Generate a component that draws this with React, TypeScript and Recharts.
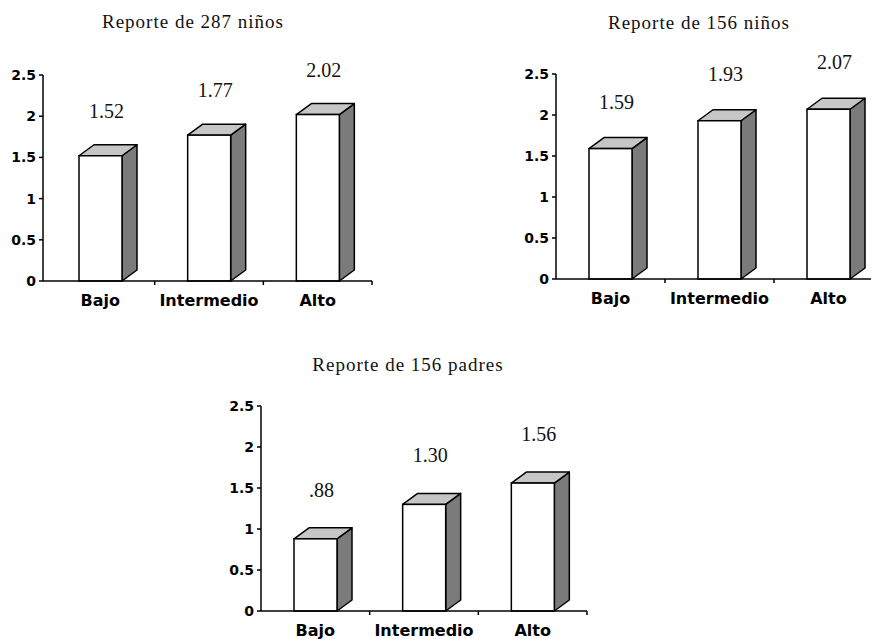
import React from 'react';
import { BarChart, Bar, XAxis, YAxis, LabelList } from 'recharts';

const categories = ['Bajo', 'Intermedio', 'Alto'];
const ninos287 = [1.52, 1.77, 2.02];
const ninos156 = [1.59, 1.93, 2.07];
const padres156 = [0.88, 1.3, 1.56];
const labels287 = ['1.52', '1.77', '2.02'];
const labels156 = ['1.59', '1.93', '2.07'];
const labelsPadres = ['.88', '1.30', '1.56'];
const yTicks = [0, 0.5, 1, 1.5, 2, 2.5];

const DX = 15;
const DY = 11;

const Box3D = (props: any) => {
  const { x, y, width: w, height: h } = props;
  if (h == null || w == null) return null;
  const b = y + h;
  return (
    <g>
      <polygon
        points={`${x + w},${y} ${x + w + DX},${y - DY} ${x + w + DX},${b - DY} ${x + w},${b}`}
        fill="#7b7b7b"
        stroke="#000"
        strokeWidth={1.5}
        strokeLinejoin="round"
      />
      <polygon
        points={`${x},${y} ${x + DX},${y - DY} ${x + w + DX},${y - DY} ${x + w},${y}`}
        fill="#c6c6c6"
        stroke="#000"
        strokeWidth={1.5}
        strokeLinejoin="round"
      />
      <rect x={x} y={y} width={w} height={h} fill="#fff" stroke="#000" strokeWidth={1.5} />
    </g>
  );
};

const valueLabel = (gap: number) => (p: any) => (
  <text
    x={p.x + p.width / 2 + 6}
    y={p.y - gap}
    textAnchor="middle"
    dominantBaseline="central"
    fontFamily="Liberation Serif"
    fontSize={20}
    fill="#111"
  >
    {p.value}
  </text>
);

const valueTick = (p: any) => (
  <text
    x={p.x}
    y={p.y}
    textAnchor="end"
    dominantBaseline="central"
    fontFamily="DejaVu Sans"
    fontWeight="bold"
    fontSize={14}
    fill="#000"
  >
    {p.payload.value}
  </text>
);

const categoryTick = (band: number) => (p: any) => (
  <g>
    <line x1={p.x + band / 2} x2={p.x + band / 2} y1={p.y} y2={p.y + 4} stroke="#000" strokeWidth={1.5} />
    <text
      x={p.x}
      y={p.y + 19}
      textAnchor="middle"
      dominantBaseline="central"
      fontFamily="DejaVu Sans"
      fontWeight="bold"
      fontSize={16}
      fill="#000"
    >
      {p.payload.value}
    </text>
  </g>
);

interface PanelProps {
  title: string;
  values: number[];
  labels: string[];
  left: number;
  top: number;
  width: number;
  height: number;
  plotTop: number;
  plotWidth: number;
  xAxisHeight: number;
  padLeft: number;
  labelGap: number;
  titleX: number;
  titleY: number;
}

const Panel = (p: PanelProps) => {
  const data = categories.map((c, i) => ({ name: c, value: p.values[i], label: p.labels[i] }));
  const band = (p.plotWidth - p.padLeft) / categories.length;
  return (
    <>
      <div
        style={{
          position: 'absolute',
          left: p.titleX - 150,
          top: p.titleY - 12,
          width: 300,
          height: 24,
          lineHeight: '24px',
          textAlign: 'center',
          fontFamily: 'Liberation Serif',
          fontSize: 19,
          letterSpacing: 1,
          color: '#111',
        }}
      >
        {p.title}
      </div>
      <div style={{ position: 'absolute', left: p.left, top: p.top }}>
        <BarChart
          width={p.width}
          height={p.height}
          data={data}
          margin={{ top: p.plotTop, left: 0, bottom: 0, right: p.width - 43 - p.plotWidth }}
        >
          <YAxis
            width={43}
            domain={[0, 2.5]}
            ticks={yTicks}
            axisLine={{ stroke: '#000', strokeWidth: 1.5 }}
            tickLine={{ stroke: '#000', strokeWidth: 1.5 }}
            tickSize={4}
            tickMargin={3}
            tick={valueTick}
          />
          <XAxis
            dataKey="name"
            height={p.xAxisHeight}
            padding={{ left: p.padLeft, right: 0 }}
            axisLine={{ stroke: '#000', strokeWidth: 1.5 }}
            tickLine={false}
            tickSize={0}
            tickMargin={0}
            interval={0}
            tick={categoryTick(band)}
          />
          <Bar dataKey="value" barSize={43} shape={<Box3D />} isAnimationActive={false}>
            <LabelList dataKey="label" content={valueLabel(p.labelGap)} />
          </Bar>
        </BarChart>
      </div>
    </>
  );
};

export default function App() {
  return (
    <div
      style={{
        position: 'absolute',
        left: 0,
        top: 0,
        width: 871,
        height: 639,
        overflow: 'hidden',
        background: '#fff',
      }}
    >
      <Panel
        title="Reporte de 287 niños"
        values={ninos287}
        labels={labels287}
        left={0}
        top={40}
        width={380}
        height={290}
        plotTop={35}
        plotWidth={329}
        xAxisHeight={49}
        padLeft={3}
        labelGap={45}
        titleX={193}
        titleY={22}
      />
      <Panel
        title="Reporte de 156 niños"
        values={ninos156}
        labels={labels156}
        left={513}
        top={40}
        width={380}
        height={290}
        plotTop={34}
        plotWidth={327}
        xAxisHeight={51}
        padLeft={0}
        labelGap={47}
        titleX={699}
        titleY={23}
      />
      <Panel
        title="Reporte de 156 padres"
        values={padres156}
        labels={labelsPadres}
        left={218}
        top={380}
        width={380}
        height={259}
        plotTop={26}
        plotWidth={326}
        xAxisHeight={28}
        padLeft={0}
        labelGap={49}
        titleX={408}
        titleY={365}
      />
    </div>
  );
}
